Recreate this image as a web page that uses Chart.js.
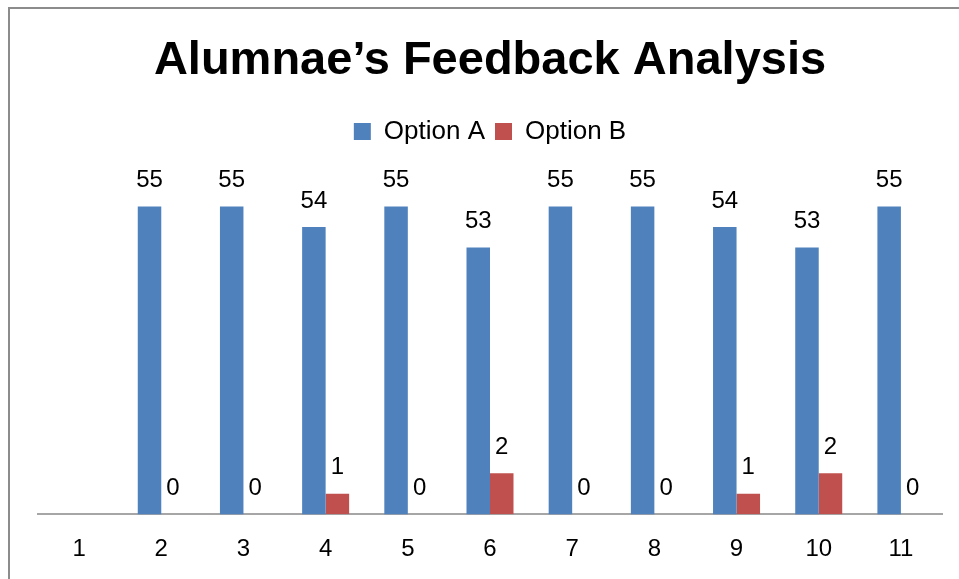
<!DOCTYPE html>
<html>
<head>
<meta charset="utf-8">
<script src="https://cdn.jsdelivr.net/npm/chart.js@4.4.1/dist/chart.umd.min.js"></script>
<style>
  html, body { margin: 0; padding: 0; background: #fff; overflow: hidden; }
  #frame {
    position: absolute; left: 8px; top: 7px; width: 1000px; height: 620px;
    border: 2px solid #8c8c8c;
  }
  #wrap { position: absolute; left: 0; top: 0; width: 959px; height: 579px; overflow: hidden; }
</style>
</head>
<body>
<div id="frame"></div>
<div id="wrap"><canvas id="chart" width="959" height="600"></canvas></div>
<script>
var categories = ['1', '2', '3', '4', '5', '6', '7', '8', '9', '10', '11'];
var optionA = [null, 55, 55, 54, 55, 53, 55, 55, 54, 53, 55];
var optionB = [null, 0, 0, 1, 0, 2, 0, 0, 1, 2, 0];

var FONT = "'Liberation Sans', Arial, Helvetica, sans-serif";

// draws the value above each bar
var valueLabels = {
  id: 'valueLabels',
  afterDatasetsDraw: function(chart) {
    var ctx = chart.ctx;
    ctx.save();
    ctx.font = '24px ' + FONT;
    ctx.fillStyle = '#000';
    ctx.textAlign = 'center';
    ctx.textBaseline = 'middle';
    chart.data.datasets.forEach(function(ds, i) {
      var meta = chart.getDatasetMeta(i);
      meta.data.forEach(function(bar, j) {
        var v = ds.data[j];
        if (v === null || v === undefined) return;
        ctx.fillText(String(v), bar.x, bar.y - 26);
      });
    });
    ctx.restore();
  }
};

var ctx = document.getElementById('chart').getContext('2d');
var chart = new Chart(ctx, {
  type: 'bar',
  data: {
    labels: categories,
    datasets: [
      { label: 'Option A', data: optionA, backgroundColor: '#4F81BD', yAxisID: 'yA',
        categoryPercentage: 0.572, barPercentage: 1.0 },
      { label: 'Option B', data: optionB, backgroundColor: '#C0504D', yAxisID: 'yB',
        categoryPercentage: 0.572, barPercentage: 1.0 }
    ]
  },
  options: {
    responsive: false,
    animation: false,
    layout: { padding: { left: 38, right: 17, top: 0, bottom: 15 } },
    plugins: {
      title: {
        display: true,
        text: 'Alumnae\u2019s Feedback Analysis',
        color: '#000',
        font: { family: FONT, size: 47, weight: 'bold' },
        padding: { top: 33, bottom: 19 }
      },
      legend: {
        display: true,
        labels: {
          color: '#000',
          font: { family: FONT, size: 26 },
          boxWidth: 17,
          boxHeight: 17,
          padding: 10
        }
      },
      tooltip: { enabled: false }
    },
    scales: {
      x: {
        grid: { display: false, drawTicks: false },
        border: { display: true, color: '#a6a6a6', width: 2 },
        ticks: { color: '#000', font: { family: FONT, size: 24 }, padding: 21 }
      },
      yA: { display: false, min: 40, max: 57.54 },
      yB: { display: false, min: 0, max: 17.54 }
    }
  },
  plugins: [valueLabels]
});
</script>
</body>
</html>
